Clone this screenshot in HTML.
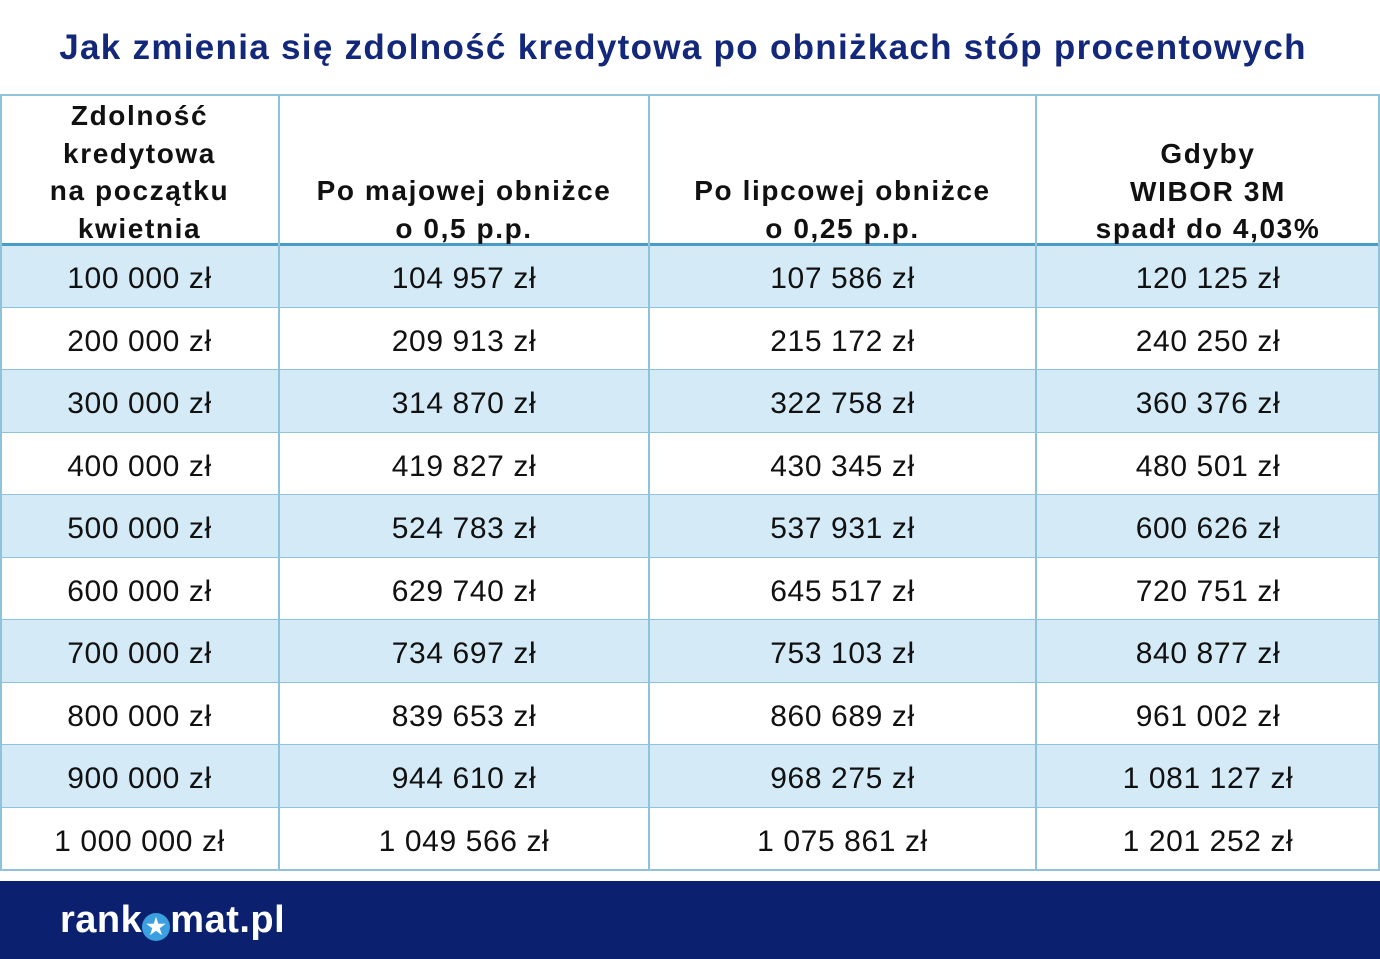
<!DOCTYPE html>
<html><head><meta charset="utf-8"><style>
body{margin:0;width:1380px;height:959px;background:#fff;position:relative;overflow:hidden;font-family:"Liberation Sans",sans-serif;}
.title{position:absolute;top:28px;left:0;width:1366px;text-align:center;font-weight:bold;font-size:35px;color:#13287a;letter-spacing:1.3px;white-space:nowrap;}
.vl{position:absolute;top:95px;height:775px;width:2px;background:#8fc3dd;}
.hl{position:absolute;left:0;width:1380px;height:2px;background:#8fc3dd;}
.row{position:absolute;left:0;width:1380px;height:62px;}
.c{position:absolute;text-align:center;font-size:30px;color:#111;letter-spacing:0.6px;}
.h{position:absolute;text-align:center;font-size:28px;font-weight:bold;color:#111;line-height:37.5px;letter-spacing:1.6px;}
.foot{position:absolute;left:0;top:881px;width:1380px;height:78px;background:#0b2170;}
.logo{position:absolute;left:60px;top:899px;font-size:38px;font-weight:bold;color:#fff;letter-spacing:0.5px;}
</style></head><body>
<div class="title">Jak zmienia się zdolność kredytowa po obniżkach stóp procentowych</div>
<div id="rows"></div>
<div class="hl" style="top:94px"></div>
<div class="hl" style="top:243px;height:3px;background:#4a9cc8"></div>
<div class="h" style="left:0;width:279px;top:97px">Zdolność<br>kredytowa<br>na początku<br>kwietnia</div>
<div class="h" style="left:279px;width:370px;top:172px">Po majowej obniżce<br>o 0,5 p.p.</div>
<div class="h" style="left:649px;width:387px;top:172px">Po lipcowej obniżce<br>o 0,25 p.p.</div>
<div class="h" style="left:1036px;width:344px;top:135px">Gdyby<br>WIBOR 3M<br>spadł do 4,03%</div>
<div class="vl" style="left:0"></div>
<div class="vl" style="left:278px"></div>
<div class="vl" style="left:648px"></div>
<div class="vl" style="left:1035px"></div>
<div class="vl" style="left:1378px"></div>
<div class="foot"></div>
<div class="logo">rank<span style="display:inline-block;width:28px;height:28px;border-radius:50%;background:#3aa0e0;color:#fff;font-size:22px;line-height:28px;text-align:center;vertical-align:-2px">★</span>mat.pl</div>
<script>
var d=[["100 000 zł","104 957 zł","107 586 zł","120 125 zł"],["200 000 zł","209 913 zł","215 172 zł","240 250 zł"],["300 000 zł","314 870 zł","322 758 zł","360 376 zł"],["400 000 zł","419 827 zł","430 345 zł","480 501 zł"],["500 000 zł","524 783 zł","537 931 zł","600 626 zł"],["600 000 zł","629 740 zł","645 517 zł","720 751 zł"],["700 000 zł","734 697 zł","753 103 zł","840 877 zł"],["800 000 zł","839 653 zł","860 689 zł","961 002 zł"],["900 000 zł","944 610 zł","968 275 zł","1 081 127 zł"],["1 000 000 zł","1 049 566 zł","1 075 861 zł","1 201 252 zł"]];
var cols=[[0,279],[279,370],[649,387],[1036,344]],h="";
for(var i=0;i<10;i++){var t=245+i*62.5;
h+='<div class="row" style="top:'+t+'px;background:'+(i%2==0?'#d4ebf7':'#fff')+'"></div>';
h+='<div class="hl" style="top:'+(t+61.5)+'px"></div>';
for(var j=0;j<4;j++)h+='<div class="c" style="left:'+cols[j][0]+'px;width:'+cols[j][1]+'px;top:'+(t+17)+'px">'+d[i][j]+'</div>';}
document.getElementById('rows').innerHTML=h;
</script>
</body></html>
